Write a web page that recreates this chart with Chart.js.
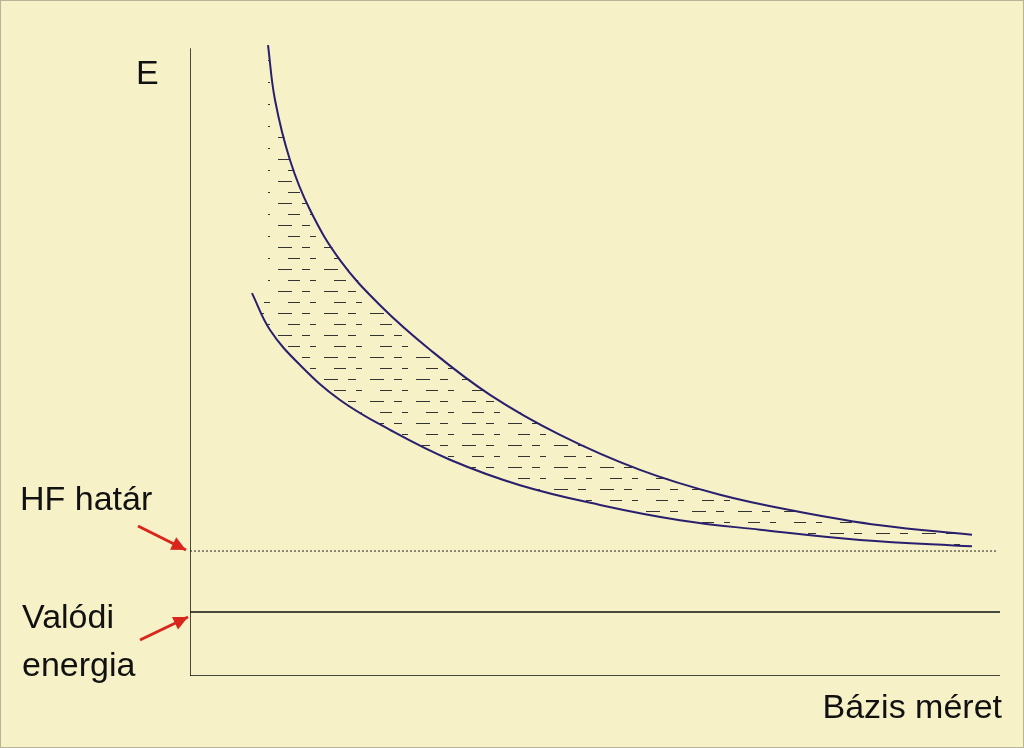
<!DOCTYPE html><html><head><meta charset="utf-8">
<script src="https://cdn.jsdelivr.net/npm/chart.js@4"></script>
<style>html,body{margin:0;padding:0;background:#f6f1c6;overflow:hidden}canvas{display:block}</style>
</head><body><canvas id="c" width="1024" height="748"></canvas>
<script>
const upperX=[9.63,10.49,12.35,14.81,18.52,23.46,29.63,37.04,45.68,55.56,65.43,75.31,85.19,96.54];
const upperY=[99.2,90.6,81.1,73.3,65.4,58.3,51.3,44.2,37.9,32.4,28.5,25.8,23.7,22.2];
const lowerX=[7.65,9.88,13.58,18.52,24.69,32.10,40.74,50.62,60.49,70.37,82.72,96.54];
const lowerY=[60.2,54.4,48.9,43.4,38.7,34.0,30.0,26.9,24.5,23.0,21.4,20.4];
const hfLevel=19.65, realLevel=10.06;
const pts=(xs,ys)=>xs.map((x,i)=>({x,y:ys[i]}));
const pc=document.createElement('canvas');pc.width=46;pc.height=22;
const px=pc.getContext('2d');px.strokeStyle='#333';px.lineWidth=1;
[[2,5,14],[26,5,8],[12,16,12],[34,16,6]].forEach(([x,y,l])=>{px.beginPath();px.moveTo(x,y+.5);px.lineTo(x+l,y+.5);px.stroke();});
const labels={
 id:'labels',
 afterDraw(ch){const c=ch.ctx;c.save();c.strokeStyle='#b8b49a';c.lineWidth=2;c.strokeRect(0,0,1024,748);
  c.fillStyle='#111';c.font='34px "Liberation Sans", Arial';
  c.fillText('E',136,84);c.fillText('HF határ',20,510);c.fillText('Valódi',22,628);c.fillText('energia',22,676);
  c.textAlign='right';c.fillText('Bázis méret',1002,718);
  c.strokeStyle='#d9261c';c.fillStyle='#d9261c';c.lineWidth=3;
  const arrow=(x1,y1,x2,y2)=>{c.beginPath();c.moveTo(x1,y1);c.lineTo(x2,y2);c.stroke();const a=Math.atan2(y2-y1,x2-x1);
   c.beginPath();c.moveTo(x2,y2);c.lineTo(x2-16*Math.cos(a-0.45),y2-16*Math.sin(a-0.45));c.lineTo(x2-16*Math.cos(a+0.45),y2-16*Math.sin(a+0.45));c.closePath();c.fill();};
  arrow(138,526,186,550);arrow(140,640,188,617);c.restore();}
};
new Chart(document.getElementById('c'),{type:'line',
 data:{datasets:[
  {data:pts(lowerX,lowerY),borderColor:'#2a1f6e',borderWidth:2,pointRadius:0,tension:0.4,fill:false},
  {data:pts(upperX,upperY),borderColor:'#2a1f6e',borderWidth:2,pointRadius:0,tension:0.4,fill:false},
  {data:[{x:0,y:hfLevel},{x:99.6,y:hfLevel}],borderColor:'#222',borderWidth:1,borderDash:[2,2],pointRadius:0},
  {data:[{x:0,y:realLevel},{x:100,y:realLevel}],borderColor:'#111',borderWidth:1.5,pointRadius:0},
  {data:[{x:0,y:98.7},{x:0,y:0},{x:100,y:0}],borderColor:'#111',borderWidth:1.5,pointRadius:0,tension:0}
 ]},
 options:{responsive:false,animation:false,events:[],devicePixelRatio:1,
  layout:{padding:{left:190,right:24,top:40,bottom:72}},
  plugins:{legend:{display:false},tooltip:{enabled:false}},
  scales:{x:{type:'linear',min:0,max:100,display:false},y:{min:0,max:100,display:false}}},
 plugins:[{id:'hatch',beforeDatasetsDraw(ch){
   const c=ch.ctx,m0=ch.getDatasetMeta(0),m1=ch.getDatasetMeta(1);
   c.save();c.beginPath();
   const u=m1.data,l=m0.data;c.moveTo(u[0].x,u[0].y);u.forEach(p=>c.lineTo(p.x,p.y));
   for(let i=l.length-1;i>=0;i--)c.lineTo(l[i].x,l[i].y);
   c.lineTo(u[0].x,l[0].y);c.closePath();c.clip();
   c.fillStyle=c.createPattern(pc,'repeat');c.fillRect(0,0,1024,748);c.restore();}},labels]
});
</script>
</body></html>
